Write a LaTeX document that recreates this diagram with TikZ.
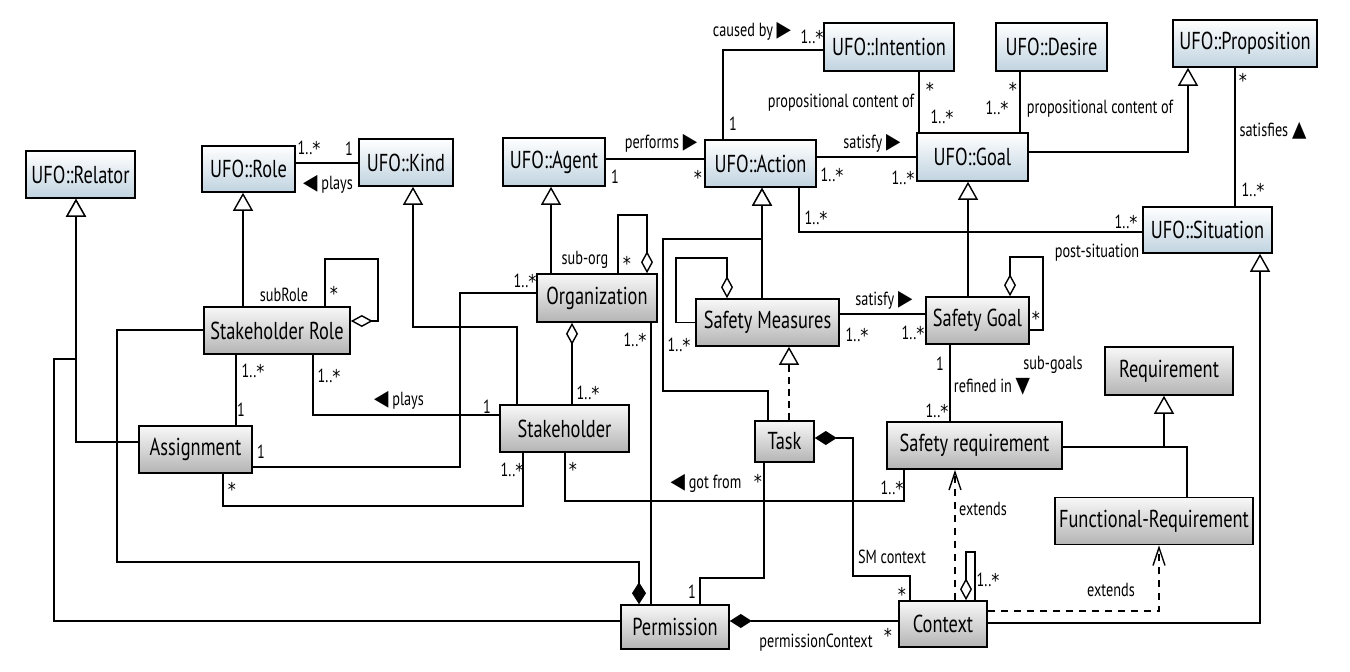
\documentclass[tikz,border=0pt]{standalone}
\usepackage{fontspec}
\setmainfont{PT Sans}[FakeStretch=0.75]
\newfontfamily\symfont{DejaVu Sans}[FakeStretch=0.85]
\usetikzlibrary{arrows.meta,calc}
\definecolor{ufobot}{RGB}{192,211,224}
\definecolor{clsbot}{RGB}{180,180,180}
\definecolor{clstop}{RGB}{248,248,248}
\newcommand\tRight{{\fontsize{22}{22}\symfont\char"25B6}}
\newcommand\tLeft{{\fontsize{22}{22}\symfont\char"25C0}}
\newcommand\tUp{{\fontsize{22}{22}\symfont\char"25B2}}
\newcommand\tDown{{\fontsize{22}{22}\symfont\char"25BC}}
\newcommand\mst{{\symfont\raisebox{-1pt}{*}}}
\tikzset{
  box/.style={draw=black, line width=1.6pt, inner sep=0pt, font=\fontsize{24.5}{24.5}\selectfont},
  ufo/.style={box, top color=white, bottom color=ufobot},
  cls/.style={box, top color=clstop, bottom color=clsbot},
  conn/.style={draw=black, line width=1.4pt},
  gen/.style={conn, -{Triangle[open, fill=white, length=18pt, width=20pt, line width=1.4pt]}},
  real/.style={gen, dash pattern=on 7pt off 5pt},
  aggend/.style={conn, -{Diamond[open, fill=white, length=22pt, width=12pt, line width=1.4pt]}},
  aggstart/.style={conn, {Diamond[open, fill=white, length=22pt, width=12pt, line width=1.4pt]}-},
  compstart/.style={conn, {Diamond[length=22pt, width=14pt]}-},
  ext/.style={conn, dash pattern=on 7pt off 6pt, -{Straight Barb[length=18pt, width=12pt, line width=1.4pt]}},
  lbl/.style={font=\fontsize{19}{19}\selectfont, inner sep=0pt}
}
\begin{document}
\begin{tikzpicture}[x=1pt, y=-1pt]
\fill[white] (0,0) rectangle (1350,672);
\useasboundingbox (0,0) rectangle (1350,672);

% ---------- classes ----------
\node[ufo, minimum width=109pt, minimum height=47pt] (relator) at (80.5,174.5) {UFO::Relator};
\node[ufo, minimum width=93pt, minimum height=46pt] (role) at (248.5,169) {UFO::Role};
\node[ufo, minimum width=94pt, minimum height=47pt] (kind) at (406,162.5) {UFO::Kind};
\node[ufo, minimum width=102pt, minimum height=48pt] (agent) at (554,162) {UFO::Agent};
\node[ufo, minimum width=111pt, minimum height=47pt] (action) at (760.5,163.5) {UFO::Action};
\node[ufo, minimum width=130pt, minimum height=48pt] (intention) at (889,47) {UFO::Intention};
\node[ufo, minimum width=111pt, minimum height=48pt] (desire) at (1051.5,47) {UFO::Desire};
\node[ufo, minimum width=111pt, minimum height=48pt] (goal) at (972.5,157) {UFO::Goal};
\node[ufo, minimum width=144pt, minimum height=47pt] (proposition) at (1245,43.5) {UFO::Proposition};
\node[ufo, minimum width=129pt, minimum height=46pt] (situation) at (1207.5,230) {UFO::Situation};

\node[cls, minimum width=146pt, minimum height=47pt] (srole) at (277,330.5) {Stakeholder Role};
\node[cls, minimum width=120pt, minimum height=48pt] (org) at (597,298) {Organization};
\node[cls, minimum width=143pt, minimum height=47pt] (sm) at (767.5,322.5) {Safety Measures};
\node[cls, minimum width=103pt, minimum height=47pt] (sg) at (977.5,320.5) {Safety Goal};
\node[cls, minimum width=128pt, minimum height=48pt] (requirement) at (1169,371) {Requirement};
\node[cls, minimum width=113pt, minimum height=47pt] (assignment) at (195.5,449.5) {Assignment};
\node[cls, minimum width=129pt, minimum height=47pt] (stakeholder) at (564.5,428.5) {Stakeholder};
\node[cls, minimum width=59pt, minimum height=41pt] (task) at (784.5,441.5) {Task};
\node[cls, minimum width=175pt, minimum height=47pt] (sreq) at (974.5,445.5) {Safety requirement};
\node[cls, minimum width=198pt, minimum height=47pt] (fr) at (1154,521) {Functional-Requirement};
\node[cls, minimum width=108pt, minimum height=44pt] (permission) at (675,627) {Permission};
\node[cls, minimum width=88pt, minimum height=46pt] (context) at (943,624) {Context};

% ---------- generalizations ----------
\draw[gen] ([yshift=7.5pt]assignment.west) -| ([xshift=-4.5pt]relator.south);
\draw[gen] ([yshift=6pt]permission.west) -| (54,359) -| ([xshift=-4.5pt]relator.south);
\draw[gen] ([xshift=-34pt]srole.north) -- ([xshift=-34pt]srole.north |- role.south);
\draw[gen] ([xshift=-47.5pt]stakeholder.north) |- (413,327) -- ([xshift=7pt]kind.south);
\draw[gen] ([xshift=-46pt]org.north) -- ([xshift=-46pt]org.north |- agent.south);
\draw[gen] ([xshift=-5.5pt]sm.north) -- ([xshift=-5.5pt]sm.north |- action.south);
\draw[gen] ([xshift=-16.5pt]task.north) |- (663,391) |- (762,239) -- ([xshift=1.5pt]action.south);
\draw[gen] ([xshift=-9.5pt]sg.north) -- ([xshift=-9.5pt]sg.north |- goal.south);
\draw[gen] ([yshift=5pt]goal.east) -| ([xshift=-57pt]proposition.south);
\draw[gen] ([yshift=1pt]context.east) -| ([xshift=52.5pt]situation.south);
\coordinate (reqj) at (1164,447);
\draw[gen, line width=2pt] ([yshift=-1.5pt]sreq.east) -- (reqj) -- ([xshift=-5pt]requirement.south);
\draw[conn, line width=2pt] ([xshift=33pt]fr.north) |- (reqj);
\draw[real] ([xshift=4.5pt]task.north) -- ([xshift=4.5pt]task.north |- sm.south);

% ---------- associations ----------
\draw[conn] ([yshift=6pt]role.east) -- ([yshift=6pt]role.east -| kind.west);
\draw[aggend] ([xshift=48pt]srole.north) |- (378,259) |- ([yshift=9.5pt]srole.east);
\draw[compstart] ([xshift=-36pt]permission.north) |- (117,562) |- ([yshift=0.5pt]srole.west);
\draw[conn] ([xshift=-41pt]srole.south) -- ([xshift=-41pt]srole.south |- assignment.north);
\draw[conn] ([xshift=36pt]srole.south) |- ([yshift=13.5pt]stakeholder.west);
\draw[conn] ([yshift=-17.5pt]assignment.east) -| (460,293) -- ([yshift=5pt]org.west);
\draw[conn] ([xshift=27.5pt]assignment.south) |- (523,506) -- ([xshift=-41.5pt]stakeholder.south);
\draw[aggend] ([xshift=21pt]org.north) |- (647,215) -- ([xshift=50pt]org.north);
\draw[aggstart] ([xshift=-25pt]org.south) -- ([xshift=-25pt]org.south |- stakeholder.north);
\draw[conn] ([xshift=54pt]org.south) -- ([xshift=54pt]org.south |- permission.north);
\draw[conn] ([xshift=0.5pt]stakeholder.south) |- (904,501) -- ([xshift=-70.5pt]sreq.south);
\draw[conn] ([xshift=-20.5pt]task.south) |- (700,578) -- ([xshift=25pt]permission.north);
\draw[compstart] ([yshift=3.5pt]task.east) -| (853,576) -| ([xshift=-33pt]context.north);
\draw[compstart] ([yshift=6pt]permission.east) -- ([yshift=6pt]permission.east -| context.west);
\draw[aggend] ([xshift=32pt]context.north) |- (966,552) -- ([xshift=23pt]context.north);
\draw[ext] ([xshift=12pt]context.north) -- ([xshift=12pt]context.north |- sreq.south);
\draw[ext] ([yshift=13pt]context.east) -| ([xshift=5pt]fr.south);
\draw[conn] ([yshift=3pt]agent.east) -- ([yshift=3pt]agent.east -| action.west);
\draw[conn] ([xshift=-37.5pt]action.north) |- ([yshift=-3pt]intention.west);
\draw[conn] ([yshift=6.5pt]action.east) -- ([yshift=6.5pt]action.east -| goal.west);
\draw[conn] ([xshift=38.5pt]action.south) |- ([yshift=-2pt]situation.west);
\draw[conn] ([xshift=30pt]intention.south) -- ([xshift=30pt]intention.south |- goal.north);
\draw[conn] ([xshift=-31.5pt]desire.south) -- ([xshift=-31.5pt]desire.south |- goal.north);
\draw[conn] ([xshift=-10pt]proposition.south) -- ([xshift=-10pt]proposition.south |- situation.north);
\draw[aggend] (sm.west) -| (676,258) -| ([xshift=-40.5pt]sm.north);
\draw[conn] ([yshift=8.5pt]sm.east) -- ([yshift=8.5pt]sm.east -| sg.west);
\draw[aggend] ([yshift=-9.5pt]sg.east) -| (1043,257) -| ([xshift=32.5pt]sg.north);
\draw[conn] ([xshift=-27.5pt]sg.south) -- ([xshift=-27.5pt]sg.south |- sreq.north);

% ---------- labels ----------
\node[lbl] (m1) at (309,148) {1..\mst};
\node[lbl] (m2) at (349,149) {1};
\node[lbl] (t1) at (328,184) {\tLeft\ plays};
\node[lbl] (t2) at (284,295) {subRole};
\node[lbl] (m3) at (334,293) {\mst};
\node[lbl] (m4) at (253,371) {1..\mst};
\node[lbl] (m5) at (241,410) {1};
\node[lbl] (m6) at (329,376) {1..\mst};
\node[lbl] (t3) at (399,400) {\tLeft\ plays};
\node[lbl] (m7) at (261,452) {1};
\node[lbl] (m8) at (232,489) {\mst};
\node[lbl] (m9) at (525,281) {1..\mst};
\node[lbl] (t4) at (585,260) {sub-org};
\node[lbl] (m10) at (627,263) {\mst};
\node[lbl] (m11) at (635,340) {1..\mst};
\node[lbl] (m12) at (588,393) {1..\mst};
\node[lbl] (m13) at (487,407) {1};
\node[lbl] (m14) at (512,470) {1..\mst};
\node[lbl] (m15) at (573,469) {\mst};
\node[lbl] (t5) at (752,31) {caused by \tRight};
\node[lbl] (m16) at (812,37) {1..\mst};
\node[lbl] (t6) at (841,103) {propositional content of};
\node[lbl] (m17) at (733,124) {1};
\node[lbl] (t7) at (661,143) {performs \tRight};
\node[lbl] (m18) at (615,177) {1};
\node[lbl] (m19) at (698,177) {\mst};
\node[lbl] (t8) at (872,143) {satisfy \tRight};
\node[lbl] (m20) at (832,175) {1..\mst};
\node[lbl] (m21) at (903,178) {1..\mst};
\node[lbl] (m22) at (816,218) {1..\mst};
\node[lbl] (m23) at (930,89) {\mst};
\node[lbl] (m24) at (942,117) {1..\mst};
\node[lbl] (m25) at (1013,89) {\mst};
\node[lbl] (m26) at (997,108) {1..\mst};
\node[lbl] (t9) at (1100,109) {propositional content of};
\node[lbl] (m27) at (1243,80) {\mst};
\node[lbl] (t10) at (1273,131) {satisfies \tUp};
\node[lbl] (m28) at (1253,190) {1..\mst};
\node[lbl] (m29) at (1126,222) {1..\mst};
\node[lbl] (t11) at (1097,253) {post-situation};
\node[lbl] (t12) at (884,300) {satisfy \tRight};
\node[lbl] (m30) at (857,335) {1..\mst};
\node[lbl] (m31) at (913,333) {1..\mst};
\node[lbl] (m32) at (679,345) {1..\mst};
\node[lbl] (m33) at (1036,318) {\mst};
\node[lbl] (m34) at (940,364) {1};
\node[lbl] (t13) at (992,387) {refined in \tDown};
\node[lbl] (t14) at (1053,365) {sub-goals};
\node[lbl] (m35) at (937,411) {1..\mst};
\node[lbl] (m36) at (892,488) {1..\mst};
\node[lbl] (m37) at (758,481) {\mst};
\node[lbl] (t15) at (706,483) {\tLeft\ got from};
\node[lbl] (t16) at (892,557) {SM context};
\node[lbl] (m38) at (902,594) {\mst};
\node[lbl] (t17) at (983,509) {extends};
\node[lbl] (m39) at (988,580) {1..\mst};
\node[lbl] (t18) at (1111,590) {extends};
\node[lbl] (t19) at (816,643) {permissionContext};
\node[lbl] (m40) at (888,635) {\mst};
\node[lbl] (m41) at (692,592) {1};
\end{tikzpicture}
\end{document}
